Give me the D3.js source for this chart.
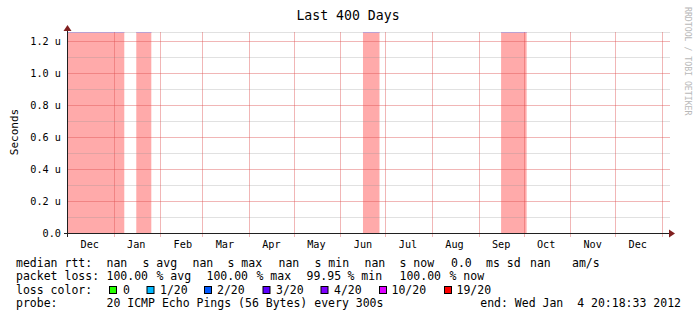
<!DOCTYPE html>
<html>
<head>
<meta charset="utf-8">
<script src="https://cdn.jsdelivr.net/npm/d3@7"></script>
<style>
  body { margin: 0; background: #fff; }
  text { font-family: "DejaVu Sans Mono", monospace; fill: #000; }
</style>
</head>
<body>
<script>
// chart data
var title = "Last 400 Days";
var yLabel = "Seconds";
var watermark = "RRDTOOL / TOBI OETIKER";
var endTime = new Date(Date.UTC(2012, 0, 4, 20, 18, 33));
var spanDays = 400;
var yMax = 1.256e-6;
var yMajor = [0, 0.2e-6, 0.4e-6, 0.6e-6, 0.8e-6, 1.0e-6, 1.2e-6];
var yMinor = [0.1e-6, 0.3e-6, 0.5e-6, 0.7e-6, 0.9e-6, 1.1e-6];

// periods of total loss (drawn up to the top of the canvas)
var lossStart = ["2010-11-30", "2011-01-16", "2011-06-16", "2011-09-16"];
var lossEnd = ["2011-01-08", "2011-01-26", "2011-06-27", "2011-10-03"];
var lossTop = [1.256e-6, 1.256e-6, 1.256e-6, 1.256e-6];

// legend
var lossLabels = ["0", "1/20", "2/20", "3/20", "4/20", "10/20", "19/20"];
var lossColors = ["#26ff00", "#00b8ff", "#0059ff", "#5e00ff", "#7e00ff", "#dd00ff", "#ff0000"];
var rttItems = ["median rtt:", "nan", "s avg", "nan", "s max", "nan", "s min", "nan", "s now", "0.0", "ms sd", "nan", "am/s"];
var pktItems = ["packet loss:", "100.00", "% avg", "100.00", "% max", "99.95", "% min", "100.00", "% now"];
var probeItems = ["probe:", "20 ICMP Echo Pings (56 Bytes) every 300s"];
var endText = "end: Wed Jan  4 20:18:33 2012";
var colorTitle = "loss color:";

var W = 697, H = 321;
var plotL = 67, plotR = 667.5, plotT = 32, plotB = 233;

var svg = d3.select("body").append("svg")
  .attr("width", W)
  .attr("height", H);

var startTime = d3.utcDay.offset(endTime, -spanDays);
var parse = d3.utcParse("%Y-%m-%d");

var x = d3.scaleUtc()
  .domain([startTime, endTime])
  .range([plotL, plotR])
  .clamp(true);

var y = d3.scaleLinear()
  .domain([0, yMax])
  .range([plotB, plotT]);

// loss areas
var bars = lossStart.map(function (s, i) {
  return { s: parse(s), e: parse(lossEnd[i]), v: lossTop[i] };
});

svg.append("g").selectAll("rect")
  .data(bars)
  .enter()
  .append("rect")
  .attr("x", function (d) { return x(d.s); })
  .attr("y", function (d) { return y(d.v); })
  .attr("width", function (d) { return x(d.e) - x(d.s); })
  .attr("height", function (d) { return y(0) - y(d.v); })
  .attr("fill", "#ffaaaa");

svg.append("g").selectAll("line")
  .data(bars)
  .enter()
  .append("line")
  .attr("x1", function (d) { return x(d.s); })
  .attr("x2", function (d) { return x(d.e); })
  .attr("y1", function (d) { return y(d.v) + 0.5; })
  .attr("y2", function (d) { return y(d.v) + 0.5; })
  .attr("stroke", "#c8a8ec")
  .attr("stroke-width", 1);

// grid
var grid = svg.append("g");
var minorCol = "rgba(143,143,143,0.27)";
var majorCol = "rgba(222,80,80,0.42)";

grid.append("line")
  .attr("x1", plotL).attr("x2", 670)
  .attr("y1", plotT + 0.5).attr("y2", plotT + 0.5)
  .attr("stroke", minorCol);

grid.selectAll(".minor")
  .data(yMinor)
  .enter()
  .append("line")
  .attr("class", "minor")
  .attr("x1", plotL).attr("x2", 670)
  .attr("y1", function (d) { return Math.round(y(d)) + 0.5; })
  .attr("y2", function (d) { return Math.round(y(d)) + 0.5; })
  .attr("stroke", minorCol);

grid.selectAll(".major")
  .data(yMajor.slice(1))
  .enter()
  .append("line")
  .attr("class", "major")
  .attr("x1", plotL).attr("x2", 670)
  .attr("y1", function (d) { return Math.round(y(d)) + 0.5; })
  .attr("y2", function (d) { return Math.round(y(d)) + 0.5; })
  .attr("stroke", majorCol);

var months = d3.utcMonth.range(d3.utcMonth.ceil(startTime), endTime);
grid.selectAll(".vgrid")
  .data(months)
  .enter()
  .append("line")
  .attr("class", "vgrid")
  .attr("x1", function (d) { return Math.round(x(d)) + 0.5; })
  .attr("x2", function (d) { return Math.round(x(d)) + 0.5; })
  .attr("y1", plotT)
  .attr("y2", plotB + 4)
  .attr("stroke", majorCol);

// month labels, centred on the 16th
var labelMonths = d3.utcMonth.range(d3.utcMonth.floor(startTime), endTime)
  .map(function (m) { return d3.utcDay.offset(m, 15); })
  .filter(function (d) { return d >= startTime && d <= endTime; });

svg.append("g").selectAll("text")
  .data(labelMonths)
  .enter()
  .append("text")
  .attr("x", function (d) { return x(d); })
  .attr("y", 248.3)
  .attr("text-anchor", "middle")
  .style("font-size", "10.2px")
  .text(d3.utcFormat("%b"));

// y labels
svg.append("g").selectAll("text")
  .data(yMajor)
  .enter()
  .append("text")
  .attr("x", 61)
  .attr("y", function (d) { return y(d) + 3.7; })
  .attr("text-anchor", "end")
  .style("font-size", "10.2px")
  .text(function (d) { return d === 0 ? "0.0" : d3.format(".1f")(d * 1e6) + " u"; });

// axes with arrows
var axisCol = "#202020", arrowCol = "#801f1f";
svg.append("line")
  .attr("x1", 64).attr("x2", 671)
  .attr("y1", plotB + 0.5).attr("y2", plotB + 0.5)
  .attr("stroke", axisCol);
svg.append("line")
  .attr("x1", plotL + 0.5).attr("x2", plotL + 0.5)
  .attr("y1", plotB + 4).attr("y2", 29)
  .attr("stroke", axisCol);
svg.append("path")
  .attr("d", "M669,229.5 L675,233.5 L669,237.5 Z")
  .attr("fill", arrowCol);
svg.append("path")
  .attr("d", "M63.5,31 L67.5,25 L71.5,31 Z")
  .attr("fill", arrowCol);

// titles
svg.append("text")
  .attr("x", 348)
  .attr("y", 20)
  .attr("text-anchor", "middle")
  .style("font-size", "13.2px")
  .text(title);

svg.append("text")
  .attr("transform", "translate(18,132) rotate(-90)")
  .attr("text-anchor", "middle")
  .style("font-size", "11px")
  .text(yLabel);

svg.append("text")
  .attr("transform", "translate(684.5,7) rotate(90)")
  .style("font-size", "8.2px")
  .style("fill", "#b8b8b8")
  .text(watermark);

// legend
var legFont = "11.5px";
var rttX = [16, 106.5, 142.5, 192.5, 227.5, 278.5, 314.5, 364.5, 399.5, 451, 486, 530, 572];
var pktX = [16, 106.5, 156.5, 206.5, 256.5, 306.5, 347.5, 399.5, 449.5];
var boxX = [109.5, 147, 204.5, 263, 321, 379.5, 444.5];
var boxLabelX = [123, 160, 217, 276, 334, 391.5, 456.5];

var leg = svg.append("g").style("font-size", legFont);

leg.selectAll(".rtt")
  .data(rttItems)
  .enter()
  .append("text")
  .attr("class", "rtt")
  .attr("x", function (d, i) { return rttX[i]; })
  .attr("y", 266.5)
  .text(function (d) { return d; });

leg.selectAll(".pkt")
  .data(pktItems)
  .enter()
  .append("text")
  .attr("class", "pkt")
  .attr("x", function (d, i) { return pktX[i]; })
  .attr("y", 280)
  .text(function (d) { return d; });

leg.append("text")
  .attr("x", 16)
  .attr("y", 293.5)
  .text(colorTitle);

leg.selectAll(".box")
  .data(lossColors)
  .enter()
  .append("rect")
  .attr("class", "box")
  .attr("x", function (d, i) { return boxX[i]; })
  .attr("y", 286.5)
  .attr("width", 7)
  .attr("height", 7)
  .attr("fill", function (d) { return d; })
  .attr("stroke", "#000");

leg.selectAll(".boxlab")
  .data(lossLabels)
  .enter()
  .append("text")
  .attr("class", "boxlab")
  .attr("x", function (d, i) { return boxLabelX[i]; })
  .attr("y", 293.5)
  .text(function (d) { return d; });

leg.selectAll(".probe")
  .data(probeItems)
  .enter()
  .append("text")
  .attr("class", "probe")
  .attr("x", function (d, i) { return i === 0 ? 16 : 106.5; })
  .attr("y", 307)
  .text(function (d) { return d; });

leg.append("text")
  .attr("x", 681)
  .attr("y", 307)
  .attr("text-anchor", "end")
  .style("white-space", "pre")
  .text(endText);
</script>
</body>
</html>
